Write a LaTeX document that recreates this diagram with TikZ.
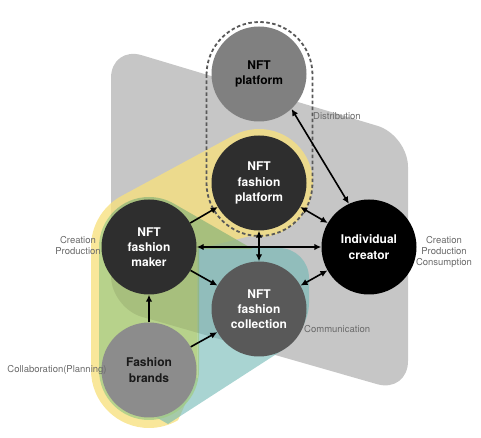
\documentclass[tikz,border=0pt]{standalone}
\usepackage{fontspec}
\setmainfont{TeX Gyre Heros}
\usetikzlibrary{arrows.meta,positioning}
\definecolor{bgray}{HTML}{C6C6C6}
\definecolor{hyellow}{HTML}{F7E07E}
\definecolor{hgreen}{HTML}{A2CB86}
\definecolor{hteal}{HTML}{6FB8B4}
\definecolor{lblgray}{HTML}{6A6A6A}

\begin{document}
\begin{tikzpicture}[x=1pt, y=1pt,
      actor/.style={circle, minimum size=95pt, inner sep=0pt, align=center,
                    font=\fontsize{12}{15.3}\selectfont\bfseries},
      dark/.style={actor, fill=black!82, text=white},
      mid/.style={actor, fill=black!65, text=white},
      light/.style={actor, fill=black!50, text=black},
      lbl/.style={font=\fontsize{9.5}{11}\selectfont, text=lblgray, align=center, inner sep=0pt},
      arr/.style={-{Latex[length=7pt, width=6.5pt]}, line width=1.6pt},
      biarr/.style={{Latex[length=7pt, width=6.5pt]}-{Latex[length=7pt, width=6.5pt]}, line width=1.6pt}]
    \useasboundingbox (0,0) rectangle (481,438);
    \def\graypath{(111,392) -- (408,303) -- (408,45) -- (111,130) -- cycle}
    \def\greenpath{(199,68) arc[start angle=0, end angle=-180, radius=50] -- (99,191)
        arc[start angle=180, end angle=60.6, radius=50] -- (252.7,189) -- (199,189) -- cycle}
    % background groups
    \fill[bgray, rounded corners=32pt] \graypath;
    \fill[hyellow, opacity=0.78] (91,191) -- (91,68) arc[start angle=180, end angle=300, radius=58]
        -- (197,60) -- (197,189) -- (249.6,201.8) arc[start angle=-100, end angle=120, radius=54]
        -- (120,241.2) arc[start angle=120, end angle=180, radius=58] -- cycle;
    \fill[hteal, opacity=0.6] (198,190) [rounded corners=30pt] -- (309,190) -- (309,105)
        [sharp corners] -- (168,14) -- (140,30) -- (150,60) -- (198,60) -- cycle;
    \fill[hgreen, opacity=0.75] \greenpath;
    \begin{scope}
      \clip[rounded corners=32pt] \graypath;
      \fill[black, opacity=0.07] \greenpath;
    \end{scope}
    \draw[black!65, line width=1.8pt, dash pattern=on 3.5pt off 2.5pt]
        (206.5,363) arc[start angle=180, end angle=0, radius=53] -- (312.5,255)
        arc[start angle=0, end angle=-180, radius=53] -- cycle;
    % actors
    \node[light] (platform) at (259,364) {NFT\\platform};
    \node[dark] (fplatform) at (259,255) {NFT\\fashion\\platform};
    \node[dark] (maker) at (149,191) {NFT\\fashion\\maker};
    \node[actor, fill=black, text=white] (creator) at (369,191) {Individual\\creator};
    \node[mid] (collection) at (259,129) {NFT\\fashion\\collection};
    \node[actor, fill=black!45, text=black!90] (brands) at (149,68) {Fashion\\brands};
    % relations
    \draw[biarr] (platform.-47) -- (creator.115);
    \draw[biarr] (fplatform) -- (creator);
    \draw[biarr] (maker) -- (creator);
    \draw[biarr] (fplatform) -- (collection);
    \draw[biarr] (creator) -- (collection);
    \draw[arr] (maker) -- (fplatform);
    \draw[arr] (maker) -- (collection);
    \draw[arr] (brands) -- (maker);
    \draw[arr] (brands) -- (collection);
    % roles
    \node[lbl, anchor=west] (dist) at (313,322) {Distribution};
    \node[lbl] (makerrole) at (78,192) {Creation\\Production};
    \node[lbl] (creatorrole) at (444,186) {Creation\\Production\\Consumption};
    \node[lbl, anchor=west] (comm) at (304,109) {Communication};
    \node[lbl] (collab) at (57,68) {Collaboration(Planning)};
\end{tikzpicture}
\end{document}
